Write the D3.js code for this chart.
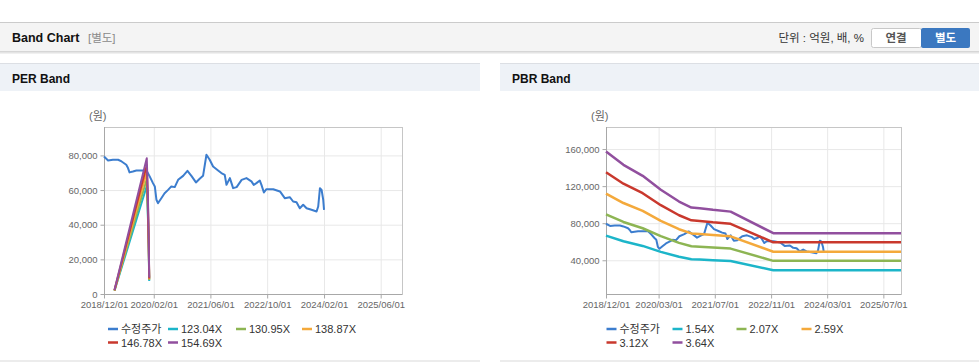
<!DOCTYPE html>
<html>
<head>
<meta charset="utf-8">
<script src="https://cdn.jsdelivr.net/npm/d3@7"></script>
<style>
    body { margin: 0; background: #fff; }
    svg text { font-family: "Liberation Sans", Arial, "Noto Sans CJK KR", sans-serif; }
    .grid line { stroke: #e8e8e8; }
    .grid path { display: none; }
    .axis path { display: none; }
    .axis line { stroke: #a8a8a8; }
    .axis text { fill: #666; font-size: 9.5px; }
</style>
</head>
<body>
<svg id="page" width="979" height="362"></svg>
<script>
// price (수정주가), shared by both charts
const priceDates = [
    "2018-12-01", "2019-01-05", "2019-02-15", "2019-04-01", "2019-05-01", "2019-06-10", "2019-06-25",
    "2019-07-08", "2019-08-06", "2019-09-05", "2019-11-01", "2019-12-01", "2019-12-28", "2020-01-25",
    "2020-02-10", "2020-02-24", "2020-03-08", "2020-04-06", "2020-05-04", "2020-06-03", "2020-07-01",
    "2020-07-30", "2020-08-28", "2020-10-10", "2020-11-16", "2020-12-20", "2021-01-28", "2021-03-01",
    "2021-03-30", "2021-04-28", "2021-05-26", "2021-06-24", "2021-08-06", "2021-09-03", "2021-10-02",
    "2021-10-17", "2021-11-15", "2021-12-13", "2022-01-12", "2022-02-24", "2022-04-06", "2022-05-19",
    "2022-06-08", "2022-07-01", "2022-07-30", "2022-08-13", "2022-09-03", "2022-09-25", "2022-11-22",
    "2023-01-19", "2023-03-01", "2023-04-13", "2023-05-12", "2023-06-10", "2023-07-08", "2023-08-06",
    "2023-09-04", "2023-10-16", "2023-11-29", "2023-12-13", "2023-12-28", "2024-01-11", "2024-01-25",
    "2024-02-01"
];
const priceValues = [
    79400, 77100, 77500, 77500, 76500, 74600, 72700,
    70200, 70700, 71300, 71300, 71300, 67900, 64000,
    62100, 54400, 52400, 55300, 58200, 60100, 62100,
    61700, 65900, 68200, 71100, 68200, 64400, 66500,
    68200, 80400, 77500, 73600, 71300, 69800, 68800,
    63000, 66900, 61100, 61700, 65900, 66900, 65000,
    63000, 64000, 65500, 63000, 58600, 60500, 60500,
    59200, 55300, 55900, 53400, 53000, 49500, 51500,
    49500, 48600, 47600, 50500, 61100, 60100, 54400,
    48600
];

// PER band
const perDates = ["2019-03-01", "2019-12-03", "2019-12-13", "2019-12-20", "2019-12-24"];
const per12304 = [1830, 62360, 43740, 23870, 7550];
const per13095 = [1950, 66370, 46550, 25400, 8040];
const per13887 = [2070, 70380, 49370, 26940, 8530];
const per14678 = [2190, 74390, 52180, 28480, 9010];
const per15469 = [2300, 78400, 55000, 30000, 9500];
const perLabels = ["수정주가", "123.04X", "130.95X", "138.87X", "146.78X", "154.69X"];
const perXTicks = ["2018/12/01", "2020/02/01", "2021/06/01", "2022/10/01", "2024/02/01", "2025/06/01"];
const perYTicks = [0, 20000, 40000, 60000, 80000];

// PBR band
const pbrDates = [
    "2018-12-01", "2019-05-01", "2019-10-15", "2020-03-20", "2020-08-25", "2020-12-10",
    "2021-02-20", "2021-06-15", "2021-11-15", "2022-11-20", "2025-12-01"
];
const pbr154 = [66590, 60510, 55470, 49080, 43720, 40990, 40700, 39930, 39130, 29280, 29280];
const pbr207 = [89510, 81330, 74560, 65970, 58770, 55100, 54710, 53680, 52600, 39350, 39350];
const pbr259 = [111990, 101760, 93290, 82540, 73530, 68950, 68450, 67160, 65810, 49240, 49240];
const pbr312 = [134910, 122580, 112380, 99430, 88580, 83050, 82460, 80900, 79280, 59310, 59310];
const pbr364 = [157390, 143020, 131110, 116010, 103340, 96900, 96210, 94390, 92490, 69200, 69200];
const pbrLabels = ["수정주가", "1.54X", "2.07X", "2.59X", "3.12X", "3.64X"];
const pbrXTicks = ["2018/12/01", "2020/03/01", "2021/07/01", "2022/11/01", "2024/03/01", "2025/07/01"];
const pbrYTicks = [40000, 80000, 120000, 160000];

const xDomain = ["2018-12-01", "2025-12-01"];
const colors = ["#3c7dce", "#1cb5c9", "#8db553", "#f4a93b", "#c9382d", "#914f9e"];

const parseDate = d3.timeParse("%Y-%m-%d");
const parseTick = d3.timeParse("%Y/%m/%d");
const zip = (dates, vals) => dates.map((d, i) => ({date: parseDate(d), value: vals[i]}));

const svg = d3.select("#page");

// ---- page header ----
svg.append("rect").attr("x", 0).attr("y", 22).attr("width", 979).attr("height", 30).attr("fill", "#f4f4f4");
svg.append("line").attr("x1", 0).attr("x2", 979).attr("y1", 22.5).attr("y2", 22.5).attr("stroke", "#cbcbcb");
["#d6d6d6", "#e4e4e4", "#f0f0f0"].forEach((c, i) => {
    svg.append("line").attr("x1", 0).attr("x2", 979)
        .attr("y1", 51.5 + i).attr("y2", 51.5 + i).attr("stroke", c);
});
svg.append("text").attr("x", 12).attr("y", 42).attr("font-size", "12.5px").attr("font-weight", "bold")
    .attr("fill", "#111").text("Band Chart");
svg.append("text").attr("x", 88).attr("y", 42).attr("font-size", "11.5px").attr("fill", "#8a8a8a").text("[별도]");
svg.append("text").attr("x", 864).attr("y", 42).attr("font-size", "11.5px").attr("fill", "#333")
    .attr("text-anchor", "end").text("단위 : 억원, 배, %");
svg.append("rect").attr("x", 871.5).attr("y", 28.5).attr("width", 50).attr("height", 19).attr("rx", 2)
    .attr("fill", "#fff").attr("stroke", "#c8c8c8");
svg.append("text").attr("x", 896).attr("y", 42).attr("font-size", "11.5px").attr("font-weight", "bold")
    .attr("fill", "#555").attr("text-anchor", "middle").text("연결");
svg.append("rect").attr("x", 921).attr("y", 28).attr("width", 49).attr("height", 20).attr("rx", 2)
    .attr("fill", "#3b78c0");
svg.append("text").attr("x", 945.5).attr("y", 42).attr("font-size", "11.5px").attr("font-weight", "bold")
    .attr("fill", "#fff").attr("text-anchor", "middle").text("별도");

// ---- panel headers ----
[[0, 480, "PER Band"], [500, 479, "PBR Band"]].forEach(([x, w, title]) => {
    svg.append("rect").attr("x", x).attr("y", 63).attr("width", w).attr("height", 28).attr("fill", "#eef2f7");
    svg.append("line").attr("x1", x).attr("x2", x + w).attr("y1", 63.5).attr("y2", 63.5).attr("stroke", "#dcdfe4");
    svg.append("text").attr("x", x + 12).attr("y", 82.5).attr("font-size", "12px").attr("font-weight", "bold")
        .attr("fill", "#111").text(title);
    svg.append("rect").attr("x", x).attr("y", 360).attr("width", w).attr("height", 2).attr("fill", "#ececec");
});


class BandChart {

    constructor(opts) {
        Object.assign(this, opts);
        this.update();
    }

    update() {
        this._setDimensions();
        this._setScales();
        this.draw();
    }

    _setDimensions() {
        this.width = this.right - this.left;
        this.height = this.bottom - this.top;
    }

    _setScales() {
        this.xScale = d3.scaleTime()
            .domain(xDomain.map(parseDate))
            .range([this.left, this.right]);

        this.yScale = d3.scaleLinear()
            .domain(this.yDomain)
            .range([this.bottom, this.top]);
    }

    draw() {
        const g = this.svg.append("g").attr("class", "chart-g");
        const xTickDates = this.xTicks.map(parseTick);

        // grid
        g.append("g").classed("grid", true)
            .attr("transform", `translate(0,${this.bottom})`)
            .call(d3.axisBottom(this.xScale).tickValues(xTickDates).tickSize(-this.height).tickFormat(""));
        g.append("g").classed("grid", true)
            .attr("transform", `translate(${this.left},0)`)
            .call(d3.axisLeft(this.yScale).tickValues(this.yTicks).tickSize(-this.width).tickFormat(""));

        // frame
        g.append("rect")
            .attr("x", this.left + 0.5).attr("y", this.top + 0.5)
            .attr("width", this.width).attr("height", this.height)
            .attr("fill", "none").attr("stroke", "#c6c6c6");
        g.append("line").attr("x1", this.left + 0.5).attr("x2", this.left + 0.5)
            .attr("y1", this.top).attr("y2", this.bottom + 0.5).attr("stroke", "#a8a8a8");
        g.append("line").attr("x1", this.left).attr("x2", this.right)
            .attr("y1", this.bottom + 0.5).attr("y2", this.bottom + 0.5).attr("stroke", "#a8a8a8");

        // axes
        g.append("g").classed("axis x-axis", true)
            .attr("transform", `translate(0,${this.bottom + 0.5})`)
            .call(d3.axisBottom(this.xScale).tickValues(xTickDates).tickSize(4).tickPadding(3)
                .tickFormat(d3.timeFormat("%Y/%m/%d")));
        g.append("g").classed("axis y-axis", true)
            .attr("transform", `translate(${this.left + 0.5},0)`)
            .call(d3.axisLeft(this.yScale).tickValues(this.yTicks).tickSize(4).tickPadding(3)
                .tickFormat(d3.format(",")));

        g.append("text").attr("x", this.left - 15).attr("y", 120)
            .attr("font-size", "11px").attr("fill", "#666").text("(원)");

        // lines
        const line = d3.line()
            .x(d => this.xScale(d.date))
            .y(d => this.yScale(d.value));

        const plot = g.append("g");
        plot.append("path").datum(this.price)
            .attr("fill", "none").attr("stroke", colors[0]).attr("stroke-width", 2)
            .attr("stroke-linejoin", "round").attr("d", line);

        this.bands.forEach((band, i) => {
            plot.append("path").datum(band)
                .attr("fill", "none").attr("stroke", colors[i + 1]).attr("stroke-width", this.bandWidth)
                .attr("stroke-linejoin", "round").attr("d", line);
        });

        // legend
        const legend = g.append("g").attr("class", "legend");
        this.labels.forEach((label, i) => {
            const row = i < 4 ? 0 : 1;
            const x = this.legendCols[i < 4 ? i : i - 4];
            const y = this.legendRows[row];
            legend.append("line").attr("x1", x).attr("x2", x + 10).attr("y1", y).attr("y2", y)
                .attr("stroke", colors[i]).attr("stroke-width", 2.5);
            legend.append("text").attr("x", x + 13).attr("y", y + 4)
                .attr("font-size", "11px").attr("fill", "#333").text(label);
        });
    }
}

const price = zip(priceDates, priceValues);

new BandChart({
    svg: svg,
    left: 104, right: 402, top: 127, bottom: 294,
    yDomain: [0, 96400],
    xTicks: perXTicks,
    yTicks: perYTicks,
    price: price,
    bands: [per12304, per13095, per13887, per14678, per15469].map(v => zip(perDates, v)),
    bandWidth: 2,
    labels: perLabels,
    legendCols: [108, 168, 236, 302],
    legendRows: [329, 342.5]
});

new BandChart({
    svg: svg,
    left: 606, right: 901, top: 127, bottom: 294,
    yDomain: [3600, 183800],
    xTicks: pbrXTicks,
    yTicks: pbrYTicks,
    price: price,
    bands: [pbr154, pbr207, pbr259, pbr312, pbr364].map(v => zip(pbrDates, v)),
    bandWidth: 2.5,
    labels: pbrLabels,
    legendCols: [606.5, 672.5, 736.5, 801.5],
    legendRows: [329, 342.5]
});
</script>
</body>
</html>
